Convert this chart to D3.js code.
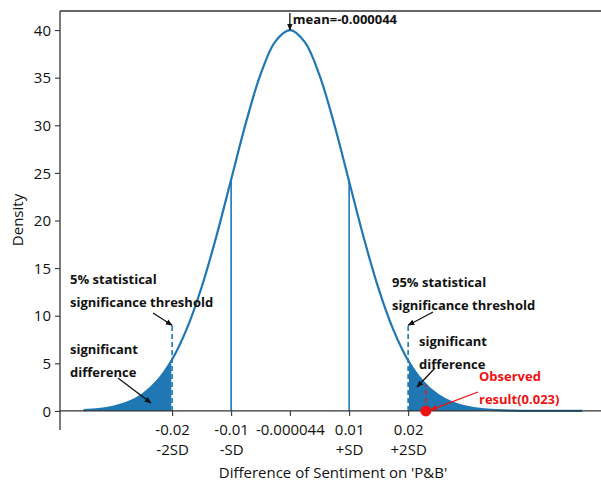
<!DOCTYPE html>
<meta charset="utf-8">
<head>
    <title>Normal density</title>
    <script src="https://cdn.jsdelivr.net/npm/d3@7/dist/d3.min.js"></script>
</head>

<style>
    body { margin: 0; background: white; }
    text { font-family: "Open Sans", "Noto Sans", sans-serif; }
    .tick text { font-size: 15px; fill: #111; }
    .note { font-size: 13px; font-weight: bold; fill: #111; }
    .red { fill: #ee1111; }
</style>

<svg></svg>

<script>
    // density curve
    var xSamples = [-0.035, -0.0325, -0.03, -0.0275, -0.025, -0.0225, -0.02, -0.0175, -0.015, -0.0125,
        -0.01, -0.0075, -0.005, -0.0025, 0, 0.0025, 0.005, 0.0075, 0.01, 0.0125,
        0.015, 0.0175, 0.02, 0.0225, 0.025, 0.0275, 0.03, 0.0325, 0.035, 0.0375,
        0.04, 0.0425, 0.045, 0.0475, 0.0495];
    var density = [0.09, 0.20, 0.44, 0.90, 1.74, 3.17, 5.40, 8.64, 12.99, 18.33,
        24.30, 30.25, 35.36, 38.81, 40.0, 38.73, 35.21, 30.05, 24.09, 18.13,
        12.82, 8.51, 5.30, 3.10, 1.71, 0.88, 0.43, 0.19, 0.08, 0.03,
        0.013, 0.004, 0.001, 0.0003, 0.0001];

    var xTicks = [-0.02, -0.01, -0.000044, 0.01, 0.02];
    var xTickLabels = [["-0.02", "-2SD"], ["-0.01", "-SD"], ["-0.000044"], ["0.01", "+SD"], ["0.02", "+2SD"]];
    var yTicks = [0, 5, 10, 15, 20, 25, 30, 35, 40];

    var meanValue = -0.000044;
    var sdLines = [[-0.01, 24.30], [0.01, 24.09]];
    var thresholds = [[-0.02, 5.40, 9.0], [0.02, 5.30, 9.0]];
    var observed = [0.023, 2.75];

    var vWidth = 601, vHeight = 484;
    var svg = d3.select('svg').attr('width', vWidth).attr('height', vHeight);

    var x = d3.scaleLinear().domain([-0.0390, 0.0537]).range([60, 607]);
    var y = d3.scaleLinear().domain([-2, 42]).range([430, 11]);
    var blue = '#1f77b4';

    var pts = xSamples.map(function (d, i) { return [d, density[i]]; });
    var leftPts = pts.filter(function (d) { return d[0] <= -0.02; });
    var rightPts = pts.filter(function (d) { return d[0] >= 0.02; });

    var area = d3.area().curve(d3.curveCatmullRom)
        .x(function (d) { return x(d[0]); })
        .y0(y(0)).y1(function (d) { return y(d[1]); });
    var line = d3.line().curve(d3.curveCatmullRom)
        .x(function (d) { return x(d[0]); })
        .y(function (d) { return y(d[1]); });

    // arrow heads
    var defs = svg.append('defs');
    [['blk', '#111'], ['red', '#ee1111']].forEach(function (m) {
        defs.append('marker').attr('id', 'head-' + m[0])
            .attr('viewBox', '0 0 10 10').attr('refX', 9).attr('refY', 5)
            .attr('markerWidth', 7).attr('markerHeight', 7).attr('orient', 'auto')
            .attr('markerUnits', 'userSpaceOnUse')
            .append('path').attr('d', 'M0,1 L10,5 L0,9 Z').attr('fill', m[1]);
    });

    // shaded tails
    svg.append('path').datum(leftPts).attr('d', area).attr('fill', blue);
    svg.append('path').datum(rightPts).attr('d', area).attr('fill', blue);

    // threshold dashed lines
    thresholds.forEach(function (t) {
        svg.append('line').attr('x1', x(t[0])).attr('x2', x(t[0]))
            .attr('y1', y(0)).attr('y2', y(t[1])).attr('stroke', 'white').attr('stroke-width', 1.6);
        svg.append('line').attr('x1', x(t[0])).attr('x2', x(t[0]))
            .attr('y1', y(0)).attr('y2', y(t[2])).attr('stroke', blue)
            .attr('stroke-width', 1.6).attr('stroke-dasharray', '5,3');
    });

    // +-SD lines
    sdLines.forEach(function (s) {
        svg.append('line').attr('x1', x(s[0])).attr('x2', x(s[0]))
            .attr('y1', y(0)).attr('y2', y(s[1])).attr('stroke', blue).attr('stroke-width', 1.6);
    });

    // curve
    svg.append('path').datum(pts).attr('d', line)
        .attr('fill', 'none').attr('stroke', blue).attr('stroke-width', 2.2);

    // observed result
    svg.append('line').attr('x1', x(observed[0])).attr('x2', x(observed[0]))
        .attr('y1', y(0)).attr('y2', y(observed[1])).attr('stroke', '#e02020')
        .attr('stroke-width', 1.5).attr('stroke-dasharray', '5,3');

    // axes
    var xAxis = d3.axisBottom(x).tickValues(xTicks).tickSize(5).tickFormat('');
    var gx = svg.append('g').attr('transform', 'translate(0,' + y(0) + ')').call(xAxis);
    gx.select('.domain').attr('d', 'M60,0H607').attr('stroke', '#333').attr('stroke-width', 1.3);
    gx.selectAll('.tick line').attr('stroke', '#333').attr('stroke-width', 1.1);
    gx.selectAll('.tick').each(function (d, i) {
        var t = d3.select(this).append('text').attr('fill', '#111').attr('text-anchor', 'middle');
        xTickLabels[i].forEach(function (s, j) {
            t.append('tspan').attr('x', 0).attr('y', 24 + j * 20).text(s);
        });
    });

    var yAxis = d3.axisLeft(y).tickValues(yTicks).tickSize(5).tickPadding(4);
    var gy = svg.append('g').attr('transform', 'translate(60,0)').call(yAxis);
    gy.select('.domain').attr('d', 'M0,' + 11 + 'V430').attr('stroke', '#333').attr('stroke-width', 1.3);
    gy.selectAll('.tick line').attr('stroke', '#333').attr('stroke-width', 1.1);
    gy.selectAll('.tick text').attr('dy', '0.35em');

    svg.append('line').attr('x1', 60).attr('x2', 607).attr('y1', 11).attr('y2', 11)
        .attr('stroke', '#333').attr('stroke-width', 1.3);

    svg.append('circle').attr('cx', x(observed[0])).attr('cy', y(0)).attr('r', 5.5).attr('fill', '#ee1111');

    // labels
    svg.append('text').attr('x', 333).attr('y', 478).attr('text-anchor', 'middle')
        .style('font-size', '15px').attr('fill', '#111').text("Difference of Sentiment on 'P&B'");
    svg.append('text').attr('transform', 'translate(23,220) rotate(-90)').attr('text-anchor', 'middle')
        .style('font-size', '15px').attr('fill', '#111').text('Density');

    // annotations
    function note(tx, ty, lines, cls) {
        var t = svg.append('text').attr('class', 'note ' + (cls || ''));
        lines.forEach(function (s, j) {
            t.append('tspan').attr('x', tx).attr('y', ty + j * 23).text(s);
        });
    }
    function arrow(x1, y1, x2, y2, col) {
        svg.append('line').attr('x1', x1).attr('y1', y1).attr('x2', x2).attr('y2', y2)
            .attr('stroke', col === 'red' ? '#ee1111' : '#111').attr('stroke-width', 1.3)
            .attr('marker-end', 'url(#head-' + (col || 'blk') + ')');
    }

    note(x(meanValue) + 3, 24, ['mean=' + meanValue.toFixed(6)]);
    arrow(x(meanValue), 13, x(meanValue), y(40));

    note(70, 284, ['5% statistical', 'significance threshold']);
    arrow(153, 313, x(thresholds[0][0]), y(thresholds[0][2]));
    note(70, 354, ['significant', 'difference']);
    arrow(118, 378, 151, 403);

    note(392, 287, ['95% statistical', 'significance threshold']);
    arrow(433, 312, x(thresholds[1][0]), y(thresholds[1][2]));
    note(419, 346, ['significant', 'difference']);
    arrow(435, 368, 417, 387);

    note(479, 381, ['Observed', 'result(' + observed[0] + ')'], 'red');
    arrow(478, 392, x(observed[0]) + 5, y(0) - 1, 'red');
</script>
